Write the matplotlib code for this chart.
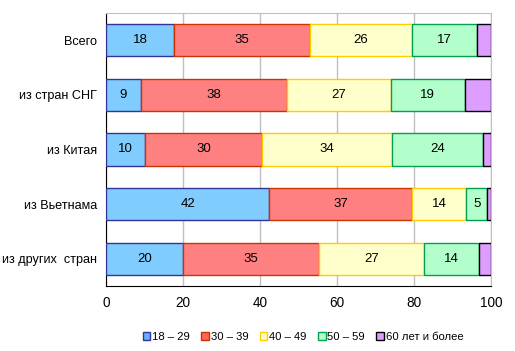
import matplotlib
matplotlib.use("Agg")
import matplotlib.pyplot as plt
import numpy as np
from matplotlib.patches import Patch

plt.rcParams['font.family'] = ['Liberation Sans', 'DejaVu Sans']

categories = ['Всего', 'из стран СНГ', 'из Китая', 'из Вьетнама', 'из других  стран']
groups = ['18 – 29', '30 – 39', '40 – 49', '50 – 59', '60 лет и более']

# shares, %
age_18_29 = [17.7, 9.1, 10.1, 42.4, 20.0]
age_30_39 = [35.3, 37.9, 30.4, 37.2, 35.3]
age_40_49 = [26.5, 26.9, 33.9, 14.0, 27.3]
age_50_59 = [16.9, 19.4, 23.5, 5.4, 14.4]
age_60_up = [3.6, 6.7, 2.1, 1.0, 3.0]

series = [age_18_29, age_30_39, age_40_49, age_50_59, age_60_up]
fills = ['#80ccff', '#ff8080', '#ffffcc', '#b3ffcc', '#dd9eff']
edges = ['#333399', '#cc3300', '#ffcc00', '#00a050', '#000000']
show_label = [True, True, True, True, False]

fig = plt.figure(figsize=(5.15, 3.51), dpi=100)
ax = fig.add_axes([106 / 515, 65 / 351, 385 / 515, 273 / 351])

y = np.arange(len(categories))
left = np.zeros(len(categories))
for vals, fc, ec, lab, name in zip(series, fills, edges, show_label, groups):
    vals = np.array(vals)
    bars = ax.barh(y, vals, left=left, height=0.59, color=fc, edgecolor=ec,
                   linewidth=1, zorder=3)
    if lab:
        for b, v in zip(bars, vals):
            ax.text(b.get_x() + b.get_width() / 2, b.get_y() + b.get_height() / 2,
                    f"{v:.0f}", ha='center', va='center', fontsize=9.5, zorder=4)
    left += vals

ax.set_xlim(0, 100)
ax.set_ylim(len(categories) - 0.5, -0.5)
ax.set_xticks(range(0, 101, 20))
ax.set_yticks(y)
ax.set_yticklabels(categories, fontsize=9.1)
ax.tick_params(axis='x', labelsize=9.8, length=0, pad=7)
ax.tick_params(axis='y', length=0, pad=6.5)
ax.grid(axis='x', color='#c0c0c0', linewidth=1, zorder=0)
for s in ['top', 'right']:
    ax.spines[s].set_color('#c0c0c0')
for s in ['left', 'bottom']:
    ax.spines[s].set_color('black')

handles = [Patch(facecolor=fc, edgecolor=ec, linewidth=1) for fc, ec in zip(fills, edges)]
# legend markers are drawn a bit more saturated in the reference
handles[0].set_facecolor('#66b3ff')
handles[1].set_facecolor('#ff6655')
fig.legend(handles, groups, loc='center', bbox_to_anchor=(303 / 515, 1 - 337 / 351),
           ncol=5, frameon=False, fontsize=8.1, handlelength=0.7, handleheight=0.7,
           handletextpad=0.15, columnspacing=1.0)

fig.savefig('out.png', dpi=100)
